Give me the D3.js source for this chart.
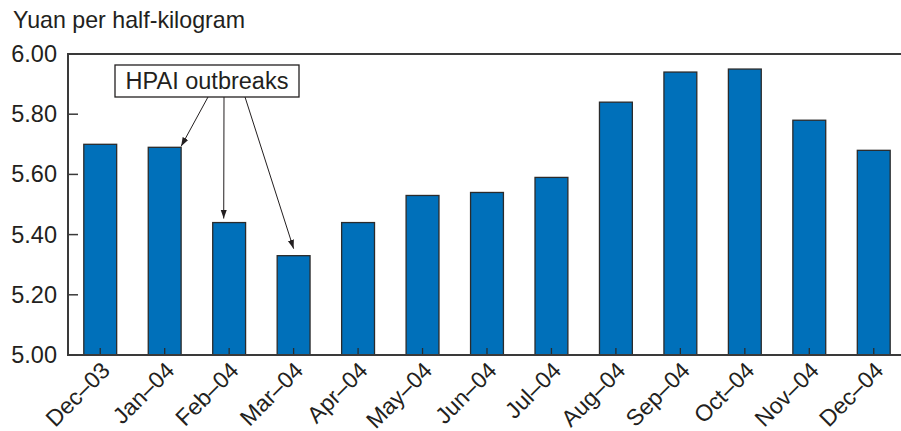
<!DOCTYPE html>
<html>
<head>
<meta charset="utf-8">
<script src="https://cdn.jsdelivr.net/npm/d3@7/dist/d3.min.js"></script>
<style>
  html, body { margin: 0; padding: 0; background: #fff; }
  svg { display: block; }
  text { font-family: "Liberation Sans", Arial, Helvetica, sans-serif; fill: #231f20; }
</style>
</head>
<body>
<svg id="chart" width="901" height="431"></svg>
<script>
const categories = ["Dec\u201303", "Jan\u201304", "Feb\u201304", "Mar\u201304", "Apr\u201304", "May\u201304", "Jun\u201304", "Jul\u201304", "Aug\u201304", "Sep\u201304", "Oct\u201304", "Nov\u201304", "Dec\u201304"];
const prices = [5.70, 5.69, 5.44, 5.33, 5.44, 5.53, 5.54, 5.59, 5.84, 5.94, 5.95, 5.78, 5.68];
const yTicks = [5.00, 5.20, 5.40, 5.60, 5.80, 6.00];
const yTitle = "Yuan per half-kilogram";
const annotationText = "HPAI outbreaks";
const annotatedMonths = ["Jan\u201304", "Feb\u201304", "Mar\u201304"];

(function () {
const svg = d3.select("#chart");
const mLeft = 68, mTop = 54, mBottom = 355;
const step = 64.46;
const x = d3.scaleBand().domain(categories)
  .range([mLeft, mLeft + step * categories.length])
  .paddingInner(0.49).paddingOuter(0.245);
const y = d3.scaleLinear().domain([5.0, 6.0]).range([mBottom, mTop]);
const bw = x.bandwidth();

// bars
svg.append("g").selectAll("rect").data(categories).join("rect")
  .attr("x", d => x(d))
  .attr("y", (d, i) => y(prices[i]))
  .attr("width", bw)
  .attr("height", (d, i) => y(5.0) - y(prices[i]))
  .attr("fill", "#0070ba")
  .attr("stroke", "#2b2b2b")
  .attr("stroke-width", 1.3);

// x ticks (inward, at bar centres)
svg.append("g").selectAll("line").data(categories).join("line")
  .attr("x1", d => x(d) + bw / 2).attr("x2", d => x(d) + bw / 2)
  .attr("y1", y(5.0)).attr("y2", y(5.0) - 7)
  .attr("stroke", "#2b2b2b").attr("stroke-width", 1.3);

// frame lines
const axisColor = "#3a3a3a";
svg.append("line").attr("x1", mLeft).attr("x2", 901).attr("y1", y(5.0)).attr("y2", y(5.0))
  .attr("stroke", axisColor).attr("stroke-width", 2);
svg.append("line").attr("x1", mLeft).attr("x2", 901).attr("y1", y(6.0)).attr("y2", y(6.0))
  .attr("stroke", axisColor).attr("stroke-width", 2);
svg.append("line").attr("x1", mLeft).attr("x2", mLeft).attr("y1", y(6.0) - 1).attr("y2", y(5.0) + 1)
  .attr("stroke", axisColor).attr("stroke-width", 2);

// y ticks (inward) and labels
svg.append("g").selectAll("line").data(yTicks).join("line")
  .attr("x1", mLeft).attr("x2", mLeft + 10)
  .attr("y1", d => y(d)).attr("y2", d => y(d))
  .attr("stroke", axisColor).attr("stroke-width", 1.5);
svg.append("g").selectAll("text").data(yTicks).join("text")
  .attr("x", 57).attr("y", d => y(d) + 8)
  .attr("text-anchor", "end")
  .attr("font-size", 23.5)
  .text(d => d.toFixed(2));

// y title
svg.append("text").attr("x", 13).attr("y", 28).attr("font-size", 23.2).text(yTitle);

// x labels rotated
svg.append("g").selectAll("text").data(categories).join("text")
  .attr("transform", d => `translate(${x(d) + bw / 2 + 11},${y(5.0) + 17}) rotate(-45)`)
  .attr("text-anchor", "end")
  .attr("font-size", 23)
  .text(d => d);

// annotation
const defs = svg.append("defs");
defs.append("marker").attr("id", "arrow")
  .attr("viewBox", "0 0 10 10").attr("refX", 10).attr("refY", 5)
  .attr("markerWidth", 9).attr("markerHeight", 9).attr("markerUnits", "userSpaceOnUse")
  .attr("orient", "auto")
  .append("path").attr("d", "M0,1.5 L10,5 L0,8.5 Z").attr("fill", "#231f20");

const boxX = 115, boxY = 65, boxW = 184, boxH = 32;
svg.append("rect").attr("x", boxX).attr("y", boxY).attr("width", boxW).attr("height", boxH)
  .attr("fill", "#fff").attr("stroke", "#231f20").attr("stroke-width", 1.3);
svg.append("text").attr("x", boxX + boxW / 2).attr("y", boxY + 24)
  .attr("text-anchor", "middle").attr("font-size", 23.5).text(annotationText);

const arrowStarts = [208, 224, 245];
const arrowTargets = [
  [x(annotatedMonths[0]) + bw, y(prices[1]) - 1],
  [x(annotatedMonths[1]) + 11, y(prices[2]) - 4],
  [x(annotatedMonths[2]) + bw / 2, y(prices[3]) - 7]
];
svg.append("g").selectAll("line").data(arrowTargets).join("line")
  .attr("x1", (d, i) => arrowStarts[i]).attr("y1", boxY + boxH)
  .attr("x2", d => d[0]).attr("y2", d => d[1])
  .attr("stroke", "#231f20").attr("stroke-width", 1)
  .attr("marker-end", "url(#arrow)");
})();
</script>
</body>
</html>
